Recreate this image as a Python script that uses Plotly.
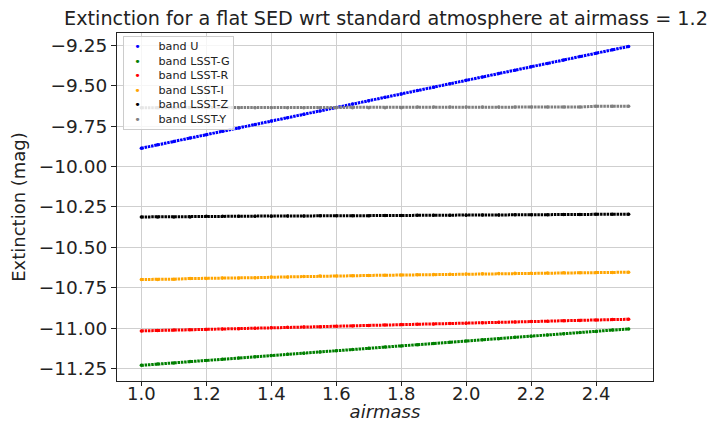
import plotly.graph_objects as go

airmass = [1.00, 1.05, 1.10, 1.15, 1.20, 1.25, 1.30, 1.35, 1.40, 1.45, 1.50,
           1.55, 1.60, 1.65, 1.70, 1.75, 1.80, 1.85, 1.90, 1.95, 2.00,
           2.05, 2.10, 2.15, 2.20, 2.25, 2.30, 2.35, 2.40, 2.45, 2.50]

band_u = [-9.887, -9.866, -9.845, -9.824, -9.803, -9.782, -9.761, -9.740, -9.719, -9.698, -9.677,
          -9.656, -9.635, -9.614, -9.593, -9.572, -9.551, -9.530, -9.509, -9.488, -9.467,
          -9.446, -9.425, -9.404, -9.383, -9.362, -9.341, -9.320, -9.299, -9.278, -9.257]
band_g = [-11.230, -11.222, -11.215, -11.207, -11.200, -11.192, -11.185, -11.177, -11.170, -11.162, -11.155,
          -11.147, -11.140, -11.132, -11.125, -11.117, -11.110, -11.102, -11.095, -11.087, -11.080,
          -11.072, -11.065, -11.057, -11.050, -11.042, -11.035, -11.027, -11.020, -11.012, -11.005]
band_r = [-11.017, -11.015, -11.012, -11.010, -11.008, -11.005, -11.003, -11.000, -10.998, -10.995, -10.993,
          -10.991, -10.988, -10.986, -10.983, -10.981, -10.978, -10.976, -10.974, -10.971, -10.969,
          -10.966, -10.964, -10.962, -10.959, -10.957, -10.954, -10.952, -10.950, -10.947, -10.945]
band_i = [-10.699, -10.699, -10.697, -10.693, -10.693, -10.690, -10.689, -10.688, -10.684, -10.683, -10.681,
          -10.678, -10.677, -10.676, -10.674, -10.673, -10.671, -10.669, -10.668, -10.666, -10.665,
          -10.663, -10.662, -10.661, -10.660, -10.659, -10.658, -10.657, -10.656, -10.655, -10.654]
band_z = [-10.312, -10.312, -10.312, -10.312, -10.308, -10.308, -10.308, -10.307, -10.307, -10.306, -10.306,
          -10.305, -10.305, -10.304, -10.304, -10.303, -10.303, -10.302, -10.302, -10.301, -10.301,
          -10.300, -10.300, -10.299, -10.299, -10.298, -10.297, -10.297, -10.296, -10.296, -10.295]
band_y = [-9.636, -9.636, -9.636, -9.636, -9.636, -9.636, -9.636, -9.636, -9.636, -9.636, -9.636,
          -9.636, -9.636, -9.636, -9.636, -9.636, -9.636, -9.632, -9.632, -9.632, -9.632,
          -9.632, -9.632, -9.632, -9.632, -9.632, -9.632, -9.632, -9.627, -9.627, -9.627]

series_names = ["band U", "band LSST-G", "band LSST-R", "band LSST-I", "band LSST-Z", "band LSST-Y"]
series_values = [band_u, band_g, band_r, band_i, band_z, band_y]
series_colors = ["#0000ff", "#008000", "#ff0000", "#ffa500", "#000000", "#808080"]

x_ticks = [1.0, 1.2, 1.4, 1.6, 1.8, 2.0, 2.2, 2.4]
y_ticks = [-11.25, -11.00, -10.75, -10.50, -10.25, -10.00, -9.75, -9.50, -9.25]

FONT = "DejaVu Sans"
TXT = "#222222"

fig = go.Figure()
for name, vals, col in zip(series_names, series_values, series_colors):
    fig.add_trace(go.Scatter(
        x=airmass, y=vals, mode="lines", legendgroup=name, showlegend=False,
        line=dict(color=col, width=3, dash="2.5px,0.8px"), hoverinfo="skip"))
    fig.add_trace(go.Scatter(
        x=airmass, y=vals, mode="markers", name=name, legendgroup=name, showlegend=False,
        marker=dict(color=col, size=3.5, line=dict(width=0))))

# compact legend (matplotlib-like spacing), built from the series lists
legend_lines = [
    f"  <span style='color:{col}'>\u2022</span>     {name}"
    for name, col in zip(series_names, series_colors)
]
fig.add_annotation(
    text="<br>".join(legend_lines), xref="paper", yref="paper",
    x=0.011, y=0.991, xanchor="left", yanchor="top", align="left",
    showarrow=False, bgcolor="rgba(255,255,255,0.8)", bordercolor="#cccccc",
    borderwidth=1, borderpad=3,
    font=dict(family=FONT, size=11.2, color=TXT),
)

fig.update_layout(
    width=714, height=422,
    margin=dict(l=117, r=61, t=33, b=41),
    paper_bgcolor="white", plot_bgcolor="white",
    font=dict(family=FONT, size=18, color=TXT),
    title=dict(text="Extinction for a flat SED wrt standard atmosphere at airmass = 1.2",
               x=386 / 714, xanchor="center", y=0.957, yanchor="middle",
               font=dict(family=FONT, size=19.2, color=TXT)),
    showlegend=False,
)
fig.update_xaxes(
    range=[0.925, 2.575], tickvals=x_ticks, ticktext=[f"{v:.1f}" for v in x_ticks],
    showgrid=True, gridcolor="#cfcfcf", gridwidth=1, zeroline=False,
    showline=True, linecolor=TXT, linewidth=1, mirror=True,
    ticks="outside", ticklen=4, tickcolor=TXT, ticklabelstandoff=-8,
    tickfont=dict(family=FONT, size=18, color=TXT), automargin=False,
    title=dict(text="<i>airmass</i>", font=dict(family=FONT, size=18, color=TXT), standoff=4),
)
fig.update_yaxes(
    range=[-11.327, -9.174], tickvals=y_ticks, ticktext=[f"\u2212{abs(v):.2f}" for v in y_ticks],
    showgrid=True, gridcolor="#cfcfcf", gridwidth=1, zeroline=False,
    showline=True, linecolor=TXT, linewidth=1, mirror=True,
    ticks="outside", ticklen=5, tickcolor=TXT,
    tickfont=dict(family=FONT, size=18.5, color=TXT), automargin=False,
    title=dict(text="Extinction (mag)", font=dict(family=FONT, size=18, color=TXT), standoff=8),
)

fig.write_html("out.html")
